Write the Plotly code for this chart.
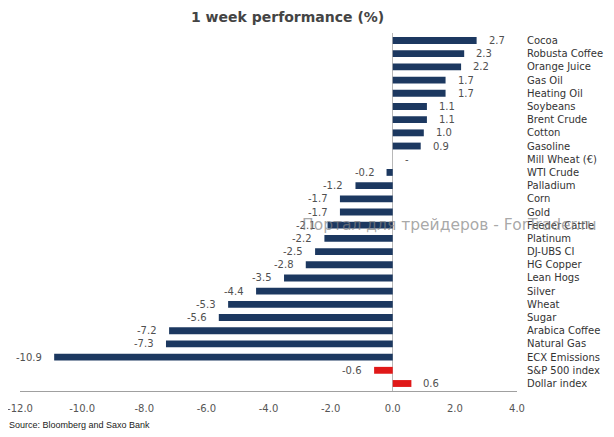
import plotly.graph_objects as go

categories = ["Cocoa", "Robusta Coffee", "Orange Juice", "Gas Oil", "Heating Oil",
              "Soybeans", "Brent Crude", "Cotton", "Gasoline", "Mill Wheat (€)",
              "WTI Crude", "Palladium", "Corn", "Gold", "Feeder Cattle", "Platinum",
              "DJ-UBS CI", "HG Copper", "Lean Hogs", "Silver", "Wheat", "Sugar",
              "Arabica Coffee", "Natural Gas", "ECX Emissions", "S&P 500 index",
              "Dollar index"]
values = [2.7, 2.3, 2.2, 1.7, 1.7, 1.1, 1.1, 1.0, 0.9, None,
          -0.2, -1.2, -1.7, -1.7, -2.1, -2.2, -2.5, -2.8, -3.5, -4.4,
          -5.3, -5.6, -7.2, -7.3, -10.9, -0.6, 0.6]
highlight = ["S&P 500 index", "Dollar index"]
x_ticks = [-12, -10, -8, -6, -4, -2, 0, 2, 4]
x_tick_labels = [f"{t:.1f}" for t in x_ticks]

NAVY = "#1c3860"
RED = "#e01818"
colors = [RED if c in highlight else NAVY for c in categories]
LABEL_FONT = dict(family="DejaVu Sans", size=10, color="#505050")

fig = go.Figure()
fig.add_trace(go.Bar(
    x=values, y=categories, orientation="h",
    marker=dict(color=colors, line=dict(width=0)),
    width=0.52, hoverinfo="x+y",
))

for c, v in zip(categories, values):
    if v is None:
        fig.add_annotation(x=0, y=c, text="-", showarrow=False, xanchor="left",
                           xshift=10, font=LABEL_FONT)
    else:
        fig.add_annotation(x=v, y=c, text=f"{v:.1f}", showarrow=False,
                           xanchor="left" if v >= 0 else "right",
                           xshift=10 if v >= 0 else -10,
                           font=LABEL_FONT)

fig.add_annotation(xref="paper", yref="paper", x=0.539, y=1.045, text="1 week performance (%)",
                   showarrow=False, xanchor="center", yanchor="middle",
                   font=dict(family="DejaVu Sans", size=14, color="#444444", weight="bold"))
fig.add_annotation(xref="paper", yref="paper", x=-0.026, y=-0.095, text="Source: Bloomberg and Saxo Bank",
                   showarrow=False, xanchor="left", yanchor="middle",
                   font=dict(family="Liberation Sans", size=9, color="#222222"))
fig.add_annotation(xref="paper", yref="paper", x=0.865, y=0.464, text="Портал для трейдеров - ForTrader.ru",
                   showarrow=False, xanchor="center", yanchor="middle",
                   font=dict(family="DejaVu Sans", size=15.5, color="rgba(130,130,130,0.7)"))

fig.update_layout(
    width=606, height=429,
    margin=dict(l=12, r=97, t=25, b=46),
    paper_bgcolor="white", plot_bgcolor="white",
    showlegend=False,
    xaxis=dict(range=[-12, 4], tickvals=x_ticks, ticktext=x_tick_labels, automargin=False,
               ticklabeloverflow="allow",
               showgrid=False, zeroline=True, zerolinecolor="#b8b8b8", zerolinewidth=1,
               showline=True, linecolor="#a0a0a0", linewidth=1,
               ticks="", ticklabelstandoff=8,
               tickfont=dict(family="DejaVu Sans", size=10, color="#555555")),
    yaxis=dict(autorange="reversed", side="right", showgrid=False, zeroline=False, automargin=False,
               showline=False, ticks="", ticklabelstandoff=9,
               tickfont=dict(family="DejaVu Sans", size=10, color="#333333")),
)

fig.write_html("out.html")
